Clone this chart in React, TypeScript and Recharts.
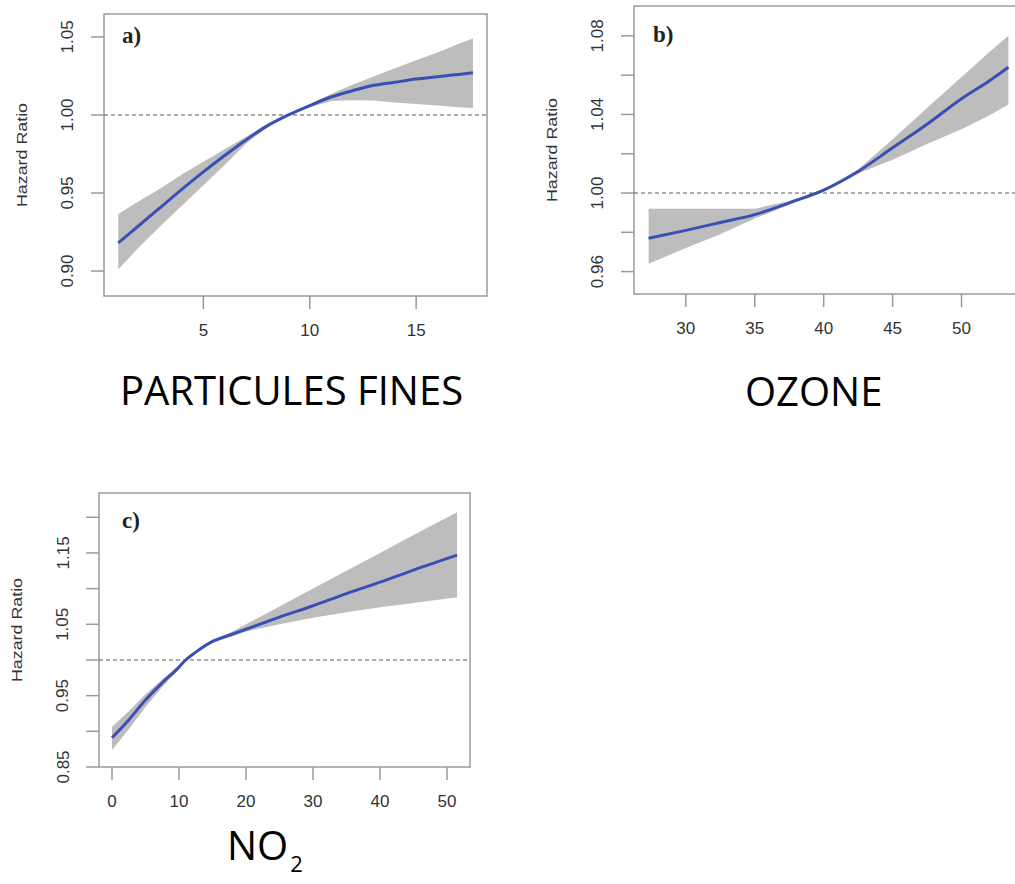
import React from 'react';
import { Area, ComposedChart, Line, ReferenceArea, ReferenceLine, XAxis, YAxis } from 'recharts';

// a) particules fines
const pmX = [1, 2, 3, 4, 5, 6, 7, 8, 9, 10, 11, 12, 13, 14, 15, 16, 17, 17.67];
const pmFit = [0.918, 0.9295, 0.941, 0.9525, 0.9635, 0.974, 0.984, 0.993, 1.0, 1.006, 1.0115, 1.0155, 1.019, 1.021, 1.023, 1.0245, 1.026, 1.027];
const pmLow = [0.901, 0.9157, 0.929, 0.942, 0.955, 0.968, 0.9815, 0.992, 1.0, 1.005, 1.009, 1.0095, 1.0093, 1.008, 1.007, 1.006, 1.005, 1.0045];
const pmHigh = [0.9365, 0.945, 0.953, 0.962, 0.97, 0.978, 0.986, 0.994, 1.0, 1.007, 1.0135, 1.0194, 1.0246, 1.03, 1.035, 1.04, 1.0457, 1.049];
const pmXTicks = [5, 10, 15];
const pmYTicks = [0.9, 0.95, 1.0, 1.05];

// b) ozone
const o3X = [27.3, 30, 32.5, 35, 37.5, 40, 42.5, 45, 47.5, 50, 52, 53.4];
const o3Fit = [0.977, 0.981, 0.985, 0.989, 0.995, 1.0015, 1.011, 1.023, 1.035, 1.048, 1.057, 1.064];
const o3Low = [0.964, 0.972, 0.979, 0.987, 0.994, 1.001, 1.01, 1.017, 1.025, 1.0325, 1.0395, 1.045];
const o3High = [0.992, 0.992, 0.992, 0.992, 0.996, 1.002, 1.012, 1.0274, 1.0433, 1.059, 1.0717, 1.08];
const o3XTicks = [30, 35, 40, 45, 50];
const o3YTicks = [0.96, 0.98, 1.0, 1.02, 1.04, 1.06, 1.08];
const o3YLabels = [0.96, 1.0, 1.04, 1.08];

// c) NO2
const no2X = [0, 2.5, 5, 7.5, 10, 11, 12.5, 15, 17.6, 20, 25, 30, 35, 40, 45, 51.5];
const no2Fit = [0.891, 0.916, 0.944, 0.968, 0.99, 1.0, 1.011, 1.026, 1.035, 1.043, 1.06, 1.076, 1.093, 1.109, 1.126, 1.147];
const no2Low = [0.874, 0.903, 0.934, 0.962, 0.987, 0.998, 1.009, 1.024, 1.032, 1.04, 1.05, 1.059, 1.067, 1.074, 1.08, 1.088];
const no2High = [0.906, 0.928, 0.952, 0.973, 0.992, 1.002, 1.013, 1.028, 1.038, 1.05, 1.075, 1.1, 1.125, 1.15, 1.175, 1.207];
const no2XTicks = [0, 10, 20, 30, 40, 50];
const no2YTicks = [0.85, 0.9, 0.95, 1.0, 1.05, 1.1, 1.15, 1.2];
const no2YLabels = [0.85, 0.95, 1.05, 1.15];

const Y_AXIS_W = 90;
const X_AXIS_H = 50;
const GREY = '#9a9a9a';
const TEXT = '#333';
const SANS = '"Liberation Sans", Arial, sans-serif';

type Box = { x1: number; y1: number; x2: number; y2: number };

interface PanelProps {
  xs: number[];
  fit: number[];
  low: number[];
  high: number[];
  xDomain: [number, number];
  yDomain: [number, number];
  xTicks: number[];
  yTicks: number[];
  yLabels: number[];
  letter: string;
  letterPos: [number, number];
  left: number;
  top: number;
  width: number;
  height: number;
  box: Box; // plot box in page coords
}

function Panel(p: PanelProps) {
  const rows = p.xs.map((x, i) => ({ x, fit: p.fit[i], band: [p.low[i], p.high[i]] }));
  const plotLeft = p.box.x1 - p.left;
  const plotTop = p.box.y1 - p.top;
  const plotBottom = p.box.y2 - p.top;
  const midY = (plotTop + plotBottom) / 2;
  const margin = {
    left: plotLeft - Y_AXIS_W,
    top: plotTop,
    right: p.left + p.width - p.box.x2,
    bottom: p.top + p.height - p.box.y2 - X_AXIS_H,
  };

  const yTick = (props: any) => {
    const v = props.payload.value;
    if (!p.yLabels.some((l) => Math.abs(l - v) < 1e-6)) return <g />;
    const cx = plotLeft - 36;
    return (
      <text
        x={cx}
        y={props.y}
        transform={`rotate(-90 ${cx} ${props.y})`}
        textAnchor="middle"
        dominantBaseline="central"
        fontSize={17}
        fontFamily={SANS}
        fill={TEXT}
      >
        {v.toFixed(2)}
      </text>
    );
  };

  const xTick = (props: any) => (
    <text
      x={props.x}
      y={plotBottom + 34}
      textAnchor="middle"
      dominantBaseline="central"
      fontSize={17}
      fontFamily={SANS}
      fill={TEXT}
    >
      {props.payload.value}
    </text>
  );

  const yTitle = () => {
    const cx = plotLeft - 82;
    return (
      <text
        x={cx}
        y={midY}
        transform={`rotate(-90 ${cx} ${midY})`}
        textAnchor="middle"
        dominantBaseline="central"
        fontSize={14}
        fontFamily={SANS}
        fill={TEXT}
        textLength={104}
        lengthAdjust="spacingAndGlyphs"
      >
        Hazard Ratio
      </text>
    );
  };

  const letterLabel = () => (
    <text
      x={plotLeft + p.letterPos[0]}
      y={plotTop + p.letterPos[1]}
      fontSize={23}
      fontWeight="bold"
      fontFamily='"Liberation Serif", "Times New Roman", serif'
      fill="#222"
    >
      {p.letter}
    </text>
  );

  return (
    <div style={{ position: 'absolute', left: p.left, top: p.top }}>
      <ComposedChart width={p.width} height={p.height} data={rows} margin={margin}>
        <XAxis
          type="number"
          dataKey="x"
          domain={p.xDomain}
          allowDataOverflow
          ticks={p.xTicks}
          interval={0}
          height={X_AXIS_H}
          axisLine={false}
          tickLine={{ stroke: GREY, strokeWidth: 1.5 }}
          tickSize={13}
          tick={xTick}
        />
        <YAxis
          type="number"
          domain={p.yDomain}
          allowDataOverflow
          ticks={p.yTicks}
          interval={0}
          width={Y_AXIS_W}
          axisLine={false}
          tickLine={{ stroke: GREY, strokeWidth: 1.5 }}
          tickSize={13}
          tick={yTick}
          label={yTitle}
        />
        <ReferenceArea
          x1={p.xDomain[0]}
          x2={p.xDomain[1]}
          y1={p.yDomain[0]}
          y2={p.yDomain[1]}
          fill="none"
          fillOpacity={0}
          stroke={GREY}
          strokeWidth={1.5}
          ifOverflow="visible"
          label={letterLabel}
        />
        <Area
          dataKey="band"
          type="linear"
          fill="#bdbdbd"
          fillOpacity={1}
          stroke="none"
          isAnimationActive={false}
        />
        <ReferenceLine y={1} stroke="#555" strokeDasharray="4 3" strokeWidth={1} />
        <Line
          dataKey="fit"
          type="monotone"
          stroke="#3a4fb5"
          strokeWidth={3}
          dot={false}
          isAnimationActive={false}
        />
      </ComposedChart>
    </div>
  );
}

export default function App() {
  return (
    <div
      style={{
        position: 'absolute',
        left: 0,
        top: 0,
        width: 1015,
        height: 884,
        overflow: 'hidden',
        background: '#fff',
      }}
    >
      <Panel
        xs={pmX}
        fit={pmFit}
        low={pmLow}
        high={pmHigh}
        xDomain={[0.33, 18.33]}
        yDomain={[0.884, 1.0647]}
        xTicks={pmXTicks}
        yTicks={pmYTicks}
        yLabels={pmYTicks}
        letter="a)"
        letterPos={[18, 29]}
        left={0}
        top={0}
        width={520}
        height={350}
        box={{ x1: 104, y1: 14, x2: 487, y2: 296 }}
      />
      <Panel
        xs={o3X}
        fit={o3Fit}
        low={o3Low}
        high={o3High}
        xDomain={[26.24, 54.46]}
        yDomain={[0.9486, 1.0952]}
        xTicks={o3XTicks}
        yTicks={o3YTicks}
        yLabels={o3YLabels}
        letter="b)"
        letterPos={[19, 36]}
        left={520}
        top={0}
        width={520}
        height={350}
        box={{ x1: 634, y1: 6, x2: 1023, y2: 294 }}
      />
      <Panel
        xs={no2X}
        fit={no2Fit}
        low={no2Low}
        high={no2High}
        xDomain={[-1.94, 53.43]}
        yDomain={[0.85, 1.234]}
        xTicks={no2XTicks}
        yTicks={no2YTicks}
        yLabels={no2YLabels}
        letter="c)"
        letterPos={[23, 35]}
        left={0}
        top={470}
        width={520}
        height={350}
        box={{ x1: 99, y1: 493, x2: 470, y2: 767 }}
      />
      <svg
        width={1015}
        height={884}
        style={{ position: 'absolute', left: 0, top: 0, pointerEvents: 'none' }}
      >
        <g fontFamily='"Open Sans", sans-serif' fill="#000" fontSize={40}>
          <text x={120} y={405}>PARTICULES FINES</text>
          <text x={745} y={406}>OZONE</text>
          <text x={227} y={860}>
            NO
            <tspan fontSize={22} dx={2} dy={12}>2</tspan>
          </text>
        </g>
      </svg>
    </div>
  );
}
